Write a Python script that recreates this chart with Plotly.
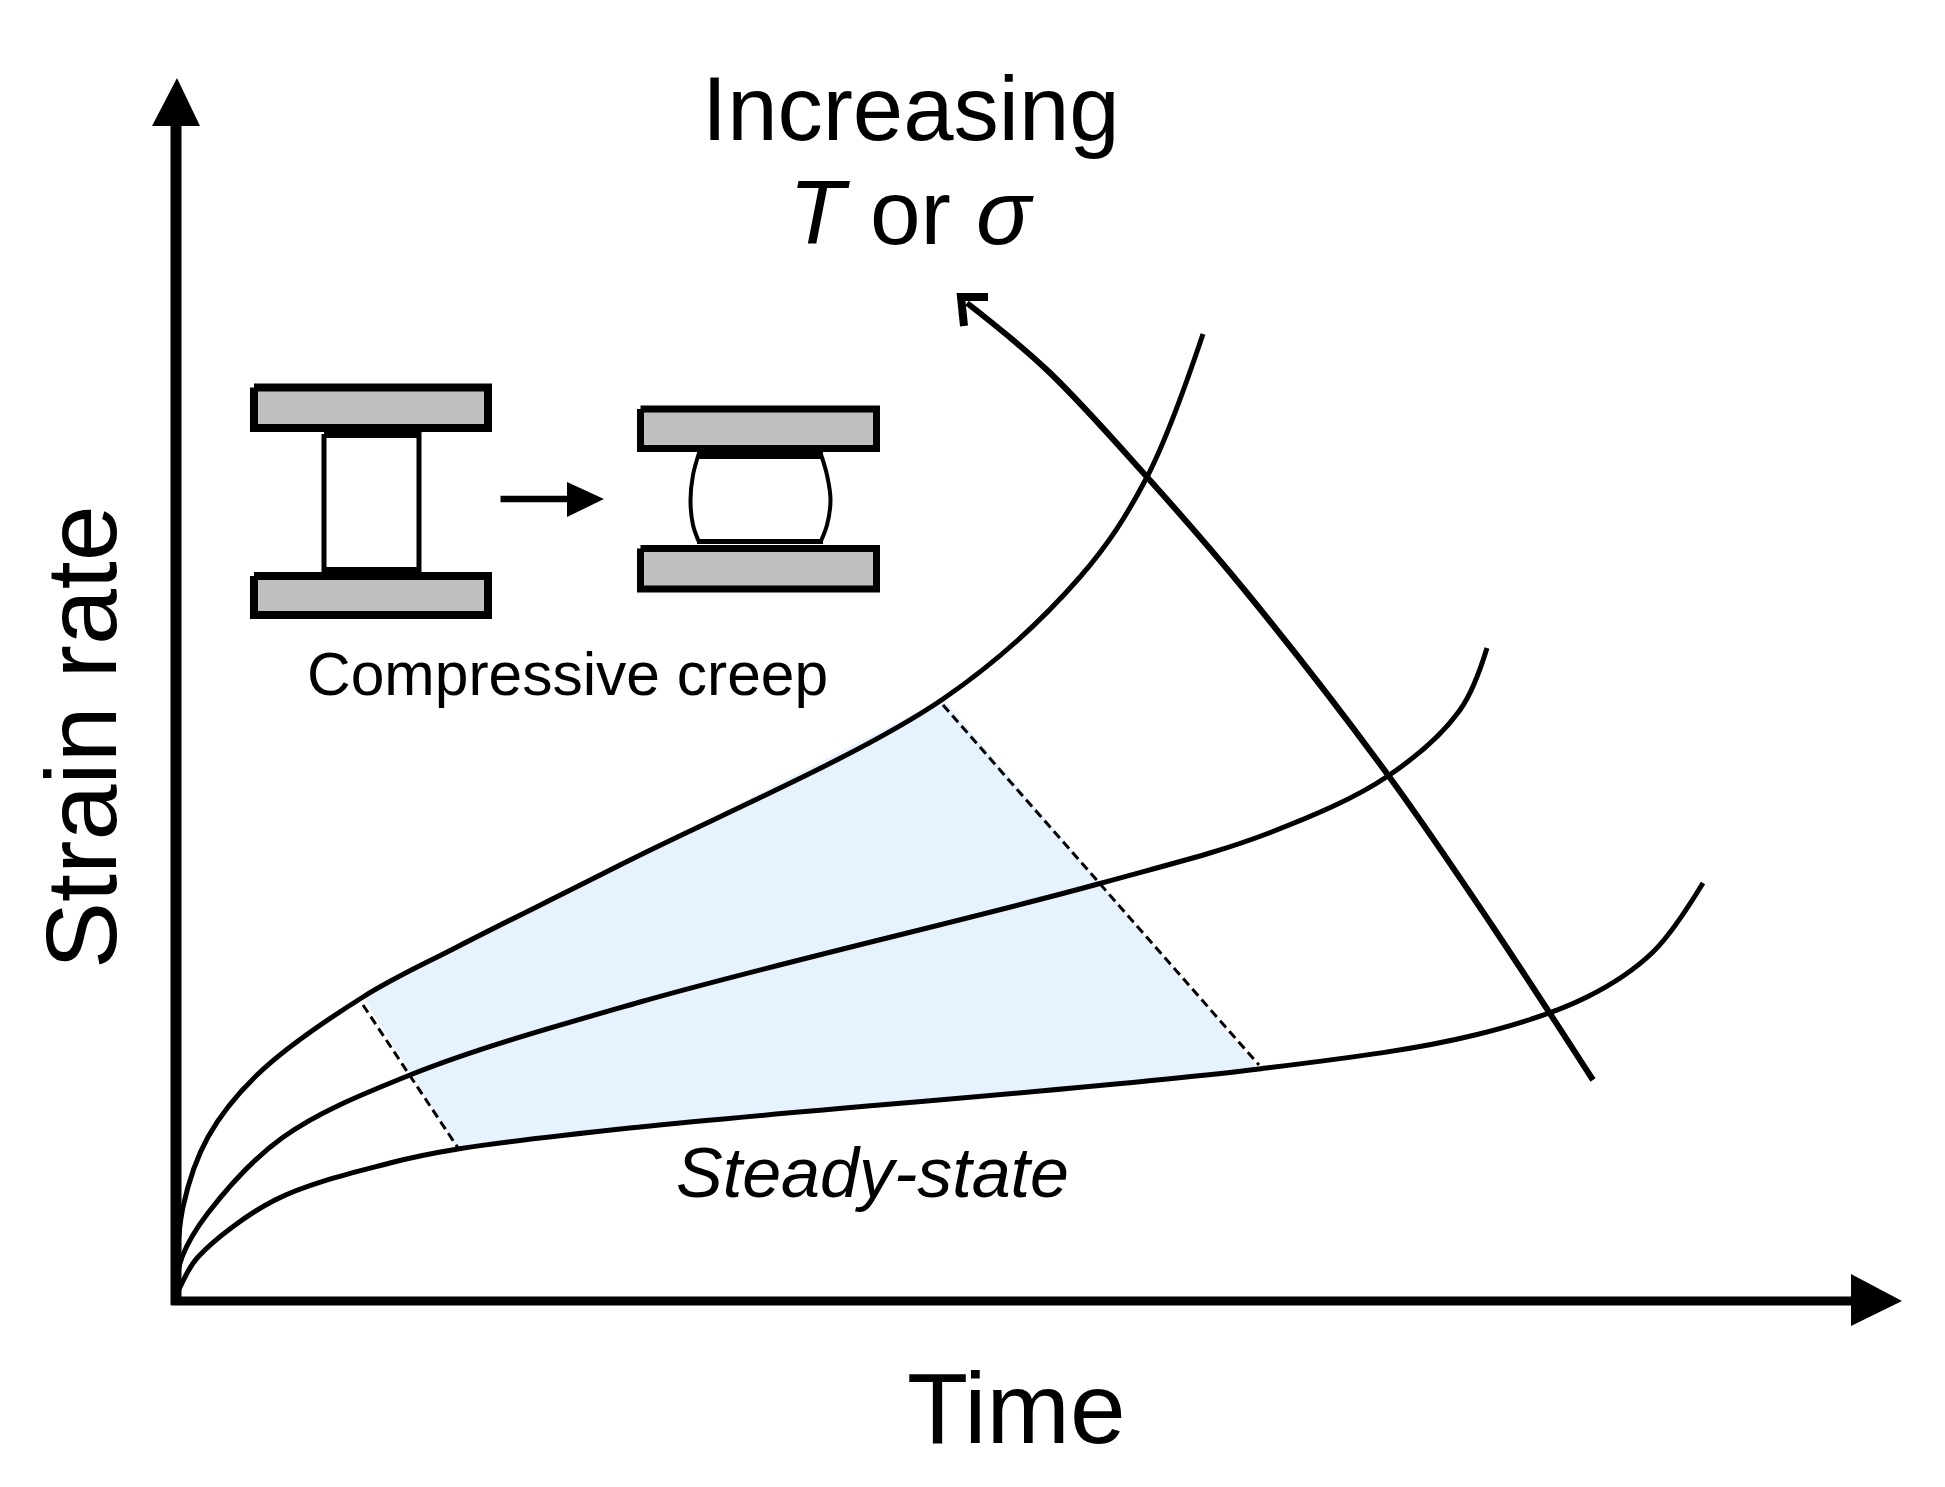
"""Schematic of strain rate against time for compressive creep"""

import plotly.graph_objects as go

# Curves: time, strain rate (arbitrary units, origin at the axis corner)
time_low = [0, 6, 22, 99, 214, 282, 464, 1083, 1299, 1411, 1477, 1527]
rate_low = [4, 17, 43, 100, 137, 151, 173, 231, 265, 303, 348, 417]

time_mid = [0, 6, 32, 106, 234, 464, 922, 1093, 1212, 1284, 1311]
rate_mid = [15, 43, 87, 162, 225, 298, 416, 467, 524, 590, 652]

time_high = [0, 7, 32, 81, 187, 281, 444, 767, 904, 971, 1027]
rate_high = [10, 93, 163, 225, 303, 353, 435, 601, 723, 823, 966]

# Trend arrow crossing the curves
trend_time = [791, 871, 971, 1071, 1212, 1317, 1417]
trend_rate = [997, 930, 823, 707, 525, 373, 220]
trend_head_time = [812, 785, 788]
trend_head_rate = [1003, 1003, 974]

# Steady-state limits
dash_left_time = [187, 282]
dash_left_rate = [295, 152]
dash_right_time = [767, 1083]
dash_right_rate = [595, 235]

# Inset: specimen before and after creep
plate_a_time = [78, 312]
plate_a_top = [912.5, 872]
plate_a_bottom = [724, 685]
column_time = [148, 243]
column_rate = [866, 730]
column_top_band = [868, 862]
column_bottom_band = [733, 728]
plate_b_time = [464.5, 700.5]
plate_b_top = [891, 851.5]
plate_b_bottom = [751.5, 711]
band_time = [521, 647]
band_top = [849, 841]
band_bottom = [761, 756]
bulge_rate = [847, 825, 800, 775, 758]
bulge_left = [523, 517, 514.5, 517, 523]
bulge_right = [644.5, 651, 654.5, 651, 644.5]
inset_arrow_time = [324.5, 395]
inset_arrow_rate = [801, 801]
inset_head_time = [391, 428, 391]
inset_head_rate = [818, 801, 783]

BLACK = "#000000"
PLATE_GREY = "#bfbfbf"
STEADY_BLUE = "#e6f2fe"
FONT = "Liberation Sans"

fig = go.Figure()


def add_line(x, y, width, smooth=False, dash="solid"):
    line = {"color": BLACK, "width": width, "dash": dash}
    if smooth:
        line.update(shape="spline", smoothing=1.0)
    fig.add_trace(go.Scatter(x=x, y=y, mode="lines", line=line, hoverinfo="skip"))


def add_box(x, y, fill, border=0):
    fig.add_trace(
        go.Scatter(
            x=[x[0], x[1], x[1], x[0], x[0]],
            y=[y[0], y[0], y[1], y[1], y[0]],
            mode="lines",
            fill="toself",
            fillcolor=fill,
            line={"color": BLACK, "width": border},
            hoverinfo="skip",
        )
    )


def add_head(x, y):
    fig.add_trace(
        go.Scatter(
            x=x,
            y=y,
            mode="lines",
            fill="toself",
            fillcolor=BLACK,
            line={"color": BLACK, "width": 0},
            hoverinfo="skip",
        )
    )


# Shaded steady-state band, bounded by the top and bottom curves
upper = [(t, r) for t, r in zip(time_high, rate_high) if 187 <= t <= 767]
lower = [(t, r) for t, r in zip(time_low, rate_low) if 282 <= t <= 1083]
band = upper + lower[::-1]
fig.add_trace(
    go.Scatter(
        x=[p[0] for p in band],
        y=[p[1] for p in band],
        mode="none",
        fill="toself",
        fillcolor=STEADY_BLUE,
        hoverinfo="skip",
    )
)

add_line(dash_left_time, dash_left_rate, 3, dash="9px,5px")
add_line(dash_right_time, dash_right_rate, 3, dash="9px,5px")

add_line(time_low, rate_low, 5, smooth=True)
add_line(time_mid, rate_mid, 5, smooth=True)
add_line(time_high, rate_high, 5, smooth=True)
add_line(trend_time, trend_rate, 6, smooth=True)
add_line(trend_head_time, trend_head_rate, 8)

# Axes with their arrowheads
add_line([0, 0], [-5, 1176], 11)
add_line([-5, 1677], [-1, -1], 9)
add_head([-24, 24, 1, -24], [1174, 1174, 1222, 1174])
add_head([1675, 1675, 1726, 1675], [26, -26, -1, 26])

# Inset
add_box(plate_a_time, plate_a_top, PLATE_GREY, 8)
add_box(plate_a_time, plate_a_bottom, PLATE_GREY, 8)
add_box(column_time, column_rate, "#ffffff", 5)
add_box(column_time, column_top_band, BLACK)
add_box(column_time, column_bottom_band, BLACK)
add_box(plate_b_time, plate_b_top, PLATE_GREY, 7)
add_box(plate_b_time, plate_b_bottom, PLATE_GREY, 7)
add_box(band_time, band_top, BLACK)
add_box(band_time, band_bottom, BLACK)
add_line(bulge_left, bulge_rate, 4, smooth=True)
add_line(bulge_right, bulge_rate, 4, smooth=True)
add_line(inset_arrow_time, inset_arrow_rate, 6.5)
add_head(inset_head_time + inset_head_time[:1], inset_head_rate + inset_head_rate[:1])

labels = [
    ("Increasing", 735, 1192, 90.5, 0),
    ("<i>T</i> or <i>σ</i>", 735, 1088, 91, 0),
    ("Compressive creep", 391, 626, 60.5, 0),
    ("<i>Steady-state</i>", 696, 127, 70, 0),
    ("Time", 840, -108, 100, 0),
    ("Strain rate", -95, 563, 100.5, -90),
]
for text, x, y, size, angle in labels:
    fig.add_annotation(
        x=x,
        y=y,
        text=text,
        showarrow=False,
        textangle=angle,
        xanchor="center",
        yanchor="middle",
        font={"family": FONT, "size": size, "color": BLACK},
    )

fig.update_layout(
    width=1945,
    height=1487,
    margin={"l": 0, "r": 0, "t": 0, "b": 0},
    showlegend=False,
    paper_bgcolor="#ffffff",
    plot_bgcolor="#ffffff",
)
fig.update_xaxes(visible=False, range=[-176, 1769])
fig.update_yaxes(visible=False, range=[-187, 1300])

fig.write_html(
    "out.html",
    config={"displayModeBar": False},
    post_script="document.body.style.margin = '0';",
)
